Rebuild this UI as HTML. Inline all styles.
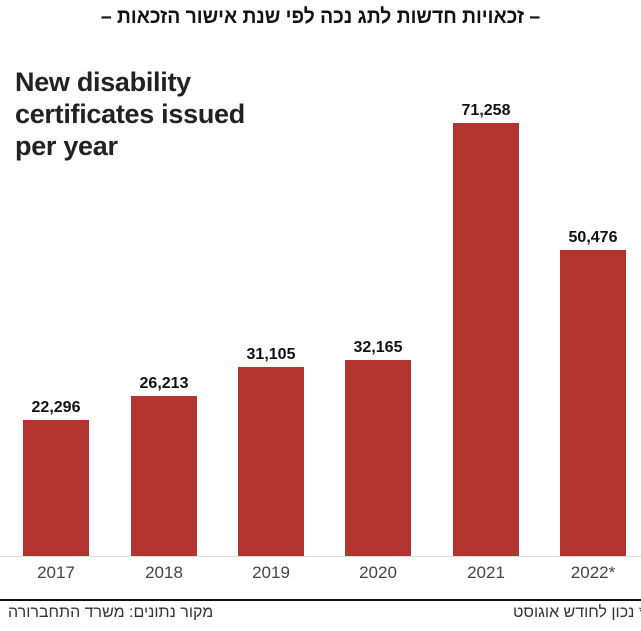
<!DOCTYPE html>
<html><head><meta charset="utf-8"><style>
body{margin:0;width:641px;height:631px;background:#fff;position:relative;overflow:hidden;font-family:"Liberation Sans","Noto Sans CJK SC",sans-serif}
.t{position:absolute;left:0;width:641px;text-align:center;top:5px;font-size:21px;font-weight:bold;color:#111;transform:scaleX(0.92)}
.h{position:absolute;left:15px;top:66px;font-size:27px;font-weight:bold;line-height:32px;color:#222;letter-spacing:-0.3px}
.b{position:absolute;background:#b3332e;width:66px}
.v{position:absolute;width:100px;text-align:center;font-size:16px;font-weight:bold;color:#111}
.y{position:absolute;width:100px;text-align:center;font-size:17px;color:#444;top:563px}
.base{position:absolute;left:0;width:641px;top:556px;height:1px;background:#ddd}
.line{position:absolute;left:0;width:641px;top:599px;height:2px;background:#111}
.f{position:absolute;top:604px;font-size:16px;color:#333;white-space:nowrap}
</style></head><body>
<div class="t">– זכאויות חדשות לתג נכה לפי שנת אישור הזכאות –</div>
<div class="h">New disability<br>certificates issued<br>per year</div>
<div class="base"></div>
<div class="b" style="left:23px;top:420px;height:136px"></div>
<div class="b" style="left:131px;top:396px;height:160px"></div>
<div class="b" style="left:238px;top:367px;height:189px"></div>
<div class="b" style="left:345px;top:360px;height:196px"></div>
<div class="b" style="left:453px;top:123px;height:433px"></div>
<div class="b" style="left:560px;top:250px;height:306px"></div>
<div class="v" style="left:6px;top:399px">22,296</div>
<div class="v" style="left:114px;top:375px">26,213</div>
<div class="v" style="left:221px;top:346px">31,105</div>
<div class="v" style="left:328px;top:339px">32,165</div>
<div class="v" style="left:436px;top:102px">71,258</div>
<div class="v" style="left:543px;top:229px">50,476</div>
<div class="y" style="left:6px">2017</div>
<div class="y" style="left:114px">2018</div>
<div class="y" style="left:221px">2019</div>
<div class="y" style="left:328px">2020</div>
<div class="y" style="left:436px">2021</div>
<div class="y" style="left:543px">2022*</div>
<div class="line"></div>
<div class="f" style="left:8px;direction:rtl">מקור נתונים: משרד התחברורה</div>
<div class="f" style="right:-4px;direction:rtl">* נכון לחודש אוגוסט</div>
</body></html>
